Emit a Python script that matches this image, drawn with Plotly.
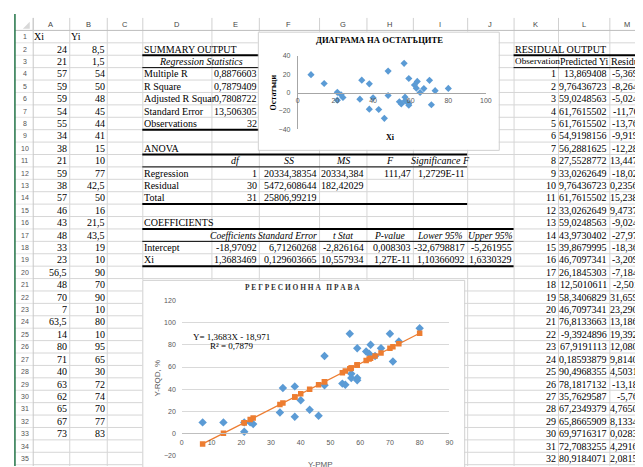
import plotly.graph_objects as go

# The page body has an 8px default margin, so the figure is drawn 8px in and
# sized to the visible part of the 643x467 window.
VIEW_W, VIEW_H = 643, 467
OX, OY = 8, 8
W, H = VIEW_W - OX, VIEW_H - OY

# ---------------- data ----------------
xi = [24, 21, 57, 59, 59, 54, 55, 34, 38, 21, 59, 38, 57, 46, 43, 48, 33, 23,
      56.5, 48, 70, 7, 63.5, 14, 80, 71, 40, 63, 62, 65, 67, 73]
yi = [8.5, 1.5, 54, 50, 48, 45, 44, 41, 15, 10, 77, 42.5, 50, 16, 21.5, 43.5, 19, 10,
      90, 70, 90, 10, 80, 10, 95, 65, 30, 72, 74, 70, 77, 83]
predicted = [13.869408, 9.76436723, 59.0248563, 61.7615502, 61.7615502, 54.9198156,
             56.2881625, 27.5528772, 33.0262649, 9.76436723, 61.7615502, 33.0262649,
             59.0248563, 43.9730402, 39.8679995, 46.7097341, 26.1845303, 12.5010611,
             58.3406829, 46.7097341, 76.8133663, -9.3924896, 67.9191113, 0.18593879,
             90.4968355, 78.1817132, 35.7629587, 67.2349379, 65.8665909, 69.9716317,
             72.7083255, 80.9184071]
residuals = [-5.369408, -8.26436723, -5.0248563, -11.7615502, -13.7615502, -9.9198156,
             -12.2881625, 13.4471228, -18.0262649, 0.23563277, 15.2384498, 9.4737351,
             -9.0248563, -27.9730402, -18.3679995, -3.2097341, -7.1845303, -2.5010611,
             31.6593171, 23.2902659, 13.1866337, 19.3924896, 12.0808887, 9.81406121,
             4.5031645, -13.1817132, -5.7629587, 4.7650621, 8.1334091, 0.0283683,
             4.2916745, 2.0815929]

stat_labels = ["Multiple R", "R Square", "Adjusted R Squar", "Standard Error", "Observations"]
stat_values = ["0,8876603", "0,7879409", "0,7808722", "13,506305", "32"]

anova_headers = ["df", "SS", "MS", "F", "Significance F"]
anova_rows = [
    ["Regression", "1", "20334,38354", "20334,384", "111,47", "1,2729E-11"],
    ["Residual", "30", "5472,608644", "182,42029", "", ""],
    ["Total", "31", "25806,99219", "", "", ""],
]
coef_headers = ["Coefficients", "Standard Error", "t Stat", "P-value", "Lower 95%", "Upper 95%"]
coef_rows = [
    ["Intercept", "-18,97092", "6,71260268", "-2,826164", "0,008303", "-32,6798817", "-5,261955"],
    ["Xi", "1,3683469", "0,129603665", "10,557934", "1,27E-11", "1,10366092", "1,6330329"],
]
col_letters = ["A", "B", "C", "D", "E", "F", "G", "H", "I", "J", "K", "L", "M"]

# ---------------- geometry helpers ----------------
SERIF = "Liberation Serif, Times New Roman, serif"
SANS = "Liberation Sans, Arial, sans-serif"


def px(x):
    return (x - OX) / W


def py(y):
    return 1 - (y - OY) / H


def row_c(n):
    return 33 + 12.6 * (n - 1)


def row_top(n):
    return 26.7 + 12.6 * (n - 1)


col_edges = [31, 68, 106, 142, 212, 260, 321, 369, 416, 471, 518, 563, 615, 651]
col_center = {c: (col_edges[i] + col_edges[i + 1]) / 2 for i, c in enumerate(col_letters)}
col_right = {c: col_edges[i + 1] - 2 for i, c in enumerate(col_letters)}
col_left = {c: col_edges[i] + 1.5 for i, c in enumerate(col_letters)}

chart1_box = (259, 28, 503, 148)
chart2_box = (142, 280, 468, 470)
boxes = [chart1_box, chart2_box]


def fmt_num(v):
    if float(v) == int(v):
        return str(int(v))
    return repr(v).replace(".", ",")


def fit_general(v, max_w, size=10):
    cw = {"-": 0.333, ",": 0.25}
    s = ""
    for d in range(9, -1, -1):
        s = f"{v:.{d}f}"
        if "." in s:
            s = s.rstrip("0").rstrip(".")
        s = s.replace(".", ",")
        w = sum(cw.get(c, 0.5) for c in s) * size
        if w <= max_w:
            return s
    return s


ann = []


def text(x, y, s, anchor="right", size=10, color="black", family=SERIF, angle=0):
    ann.append(dict(x=px(x), y=py(y), xref="paper", yref="paper", text=s, showarrow=False,
                    xanchor=anchor, yanchor="middle", borderpad=0, borderwidth=0,
                    textangle=angle, font=dict(family=family, size=size, color=color)))


def cut(intervals, lo, hi):
    out = []
    for a, b in intervals:
        if b <= lo or a >= hi:
            out.append((a, b))
        else:
            if a < lo:
                out.append((a, lo))
            if b > hi:
                out.append((hi, b))
    return out


def vsegs(x, y0, y1):
    segs = [(y0, y1)]
    for bx0, by0, bx1, by1 in boxes:
        if bx0 <= x <= bx1:
            segs = cut(segs, by0, by1)
    return segs


def hsegs(y, x0, x1):
    segs = [(x0, x1)]
    for bx0, by0, bx1, by1 in boxes:
        if by0 <= y <= by1:
            segs = cut(segs, bx0, bx1)
    return segs


shapes = []


def path_shape(d, color, width):
    shapes.append(dict(type="path", path=d, xref="paper", yref="paper",
                       line=dict(color=color, width=width), layer="below"))


# ---------------- sheet grid ----------------
grid = []
for x in col_edges[1:-1]:
    for a, b in vsegs(x, row_top(1), VIEW_H + 2):
        grid.append(f"M{px(x + 0.5)},{py(a)} L{px(x + 0.5)},{py(b)}")
for n in range(2, 37):
    y = row_top(n)
    for a, b in hsegs(y, 31, VIEW_W + 2):
        grid.append(f"M{px(a)},{py(y)} L{px(b)},{py(y)}")
path_shape(" ".join(grid), "#D6D6D6", 1)

rh = []
for n in range(2, 37):
    y = row_top(n)
    rh.append(f"M{px(13)},{py(y)} L{px(31)},{py(y)}")
path_shape(" ".join(rh), "#E4E4E4", 1)

ch = []
for x in col_edges[:-1]:
    ch.append(f"M{px(x + 0.5)},{py(14)} L{px(x + 0.5)},{py(row_top(1))}")
path_shape(" ".join(ch), "#D0D0D0", 1)
path_shape(f"M{px(13)},{py(row_top(1))} L{px(VIEW_W + 2)},{py(row_top(1))}", "#BDBDBD", 1)
path_shape(f"M{px(31.5)},{py(14)} L{px(31.5)},{py(VIEW_H + 2)}", "#C8C8C8", 1)
path_shape(f"M{px(13)},{py(10)} L{px(13)},{py(VIEW_H + 2)}", "#217346", 1.5)
shapes.append(dict(type="path", xref="paper", yref="paper",
                   path=f"M{px(21)},{py(25)} L{px(28)},{py(25)} L{px(28)},{py(18)} Z",
                   fillcolor="#D8D8D8", line=dict(width=0), layer="below"))

borders = [
    (142, 260, row_top(3), 2), (142, 260, row_top(4), 1), (142, 260, row_top(9), 2),
    (142, 471, row_top(11), 2), (142, 471, row_top(12), 1), (142, 471, row_top(15), 2),
    (142, 518, row_top(17), 2), (142, 518, row_top(18), 1), (142, 518, row_top(20), 2),
    (518, VIEW_W + 2, row_top(3), 2), (518, VIEW_W + 2, row_top(4), 1),
]
for x0, x1, y, w in borders:
    path_shape(f"M{px(x0)},{py(y)} L{px(x1)},{py(y)}", "black", w)

for bx0, by0, bx1, by1 in boxes:
    shapes.append(dict(type="rect", xref="paper", yref="paper",
                       x0=px(bx0 + 0.5), x1=px(bx1 + 0.5), y0=py(by0 + 0.5), y1=py(by1 + 0.5),
                       line=dict(color="#D0D0D0", width=1), fillcolor="rgba(0,0,0,0)",
                       layer="below"))

# ---------------- header texts ----------------
for c in col_letters:
    text(col_center[c], 20.6, c, anchor="center", size=7.5, color="#444444", family=SANS)
for n in range(1, 36):
    text(23, row_c(n), str(n), anchor="center", size=7, color="#555555", family=SANS)

# ---------------- cell texts ----------------
text(col_left["A"], row_c(1), "Xi", anchor="left")
text(col_left["B"], row_c(1), "Yi", anchor="left")
for i, (a, b) in enumerate(zip(xi, yi)):
    text(col_right["A"], row_c(i + 2), fmt_num(a))
    text(col_right["B"], row_c(i + 2), fmt_num(b))

text(col_left["D"], row_c(2), "SUMMARY OUTPUT", anchor="left")
text((142 + 260) / 2, row_c(3), "<i>Regression Statistics</i>", anchor="center")
for k, (lab, val) in enumerate(zip(stat_labels, stat_values)):
    text(col_left["D"], row_c(4 + k), lab, anchor="left")
    text(col_right["E"], row_c(4 + k), val)

text(col_left["D"], row_c(10), "ANOVA", anchor="left")
for c, h in zip(["E", "F", "G", "H", "I"], anova_headers):
    text(col_center[c], row_c(11), f"<i>{h}</i>", anchor="center")
for k, row in enumerate(anova_rows):
    text(col_left["D"], row_c(12 + k), row[0], anchor="left")
    for c, v in zip(["E", "F", "G", "H", "I"], row[1:]):
        if v:
            text(col_right[c], row_c(12 + k), v)

text(col_left["D"], row_c(16), "COEFFICIENTS", anchor="left")
coef_centers = {"E": 234, "F": 289, "G": 345, "H": 392.5, "I": 443.5, "J": 494.5}
for c, h in zip(["E", "F", "G", "H", "I", "J"], coef_headers):
    text(coef_centers[c], row_c(17), f"<i>{h}</i>", anchor="center", size=9.6)
for k, row in enumerate(coef_rows):
    text(col_left["D"], row_c(18 + k), row[0], anchor="left")
    for c, v in zip(["E", "F", "G", "H", "I", "J"], row[1:]):
        text(col_right[c], row_c(18 + k), v)

text(col_left["K"] - 0.5, row_c(2), "RESIDUAL OUTPUT", anchor="left")
text(col_left["K"] - 0.5, row_c(3), "Observation", anchor="left", size=9.2)
text(col_center["L"] + 0.5, row_c(3), "Predicted Yi", anchor="center", size=9.8)
text(col_left["M"], row_c(3), "Residuals", anchor="left")
for i, (p, r) in enumerate(zip(predicted, residuals)):
    n = 4 + i
    text(col_right["K"], row_c(n), str(i + 1))
    text(col_right["L"], row_c(n), fmt_num(p))
    text(col_right["M"], row_c(n), fit_general(r, 33))

# ---------------- chart titles / labels ----------------
text(382, 36.5, "<b>ДИАГРАМА НА ОСТАТЪЦИТЕ</b>", anchor="center", size=8.6)
text(275, 90, "<b>Остатъци</b>", anchor="center", size=8, angle=-90)
text(393, 135.5, "<b>Xi</b>", anchor="center", size=8)

text(304, 288, "<b>Р Е Г Р Е С И О Н Н А   П Р А В А</b>", anchor="center", size=7.4,
     color="#333333")
text(157, 380, "Y-RQD, %", anchor="center", size=8, color="#595959", family=SANS, angle=-90)
text(322, 468, "Y-PMP", anchor="center", size=8, color="#595959", family=SANS)
text(232, 338, "Y= 1,3683X - 18,971", anchor="center", size=9)
text(233, 347.5, "R² = 0,7879", anchor="center", size=9)

# ---------------- charts ----------------
fig = go.Figure()

fig.add_trace(go.Scatter(x=xi, y=residuals, mode="markers", xaxis="x", yaxis="y",
                         marker=dict(symbol="diamond", size=5.5, color="#5B9BD5"),
                         showlegend=False, hoverinfo="skip"))

fig.add_trace(go.Scatter(x=xi, y=yi, mode="markers", xaxis="x2", yaxis="y2",
                         marker=dict(symbol="diamond", size=6.5, color="#5B9BD5"),
                         showlegend=False, hoverinfo="skip"))
pairs = sorted(zip(xi, predicted))
fig.add_trace(go.Scatter(x=[p[0] for p in pairs], y=[p[1] for p in pairs],
                         mode="lines+markers", xaxis="x2", yaxis="y2",
                         line=dict(color="#ED7D31", width=1.3),
                         marker=dict(symbol="square", size=5.5, color="#ED7D31"),
                         showlegend=False, hoverinfo="skip"))

tickfont = dict(family=SANS, size=7, color="#595959")

fig.update_layout(
    width=W, height=H, autosize=False,
    margin=dict(l=0, r=0, t=0, b=0),
    paper_bgcolor="white", plot_bgcolor="white",
    shapes=shapes, annotations=ann,
    xaxis=dict(domain=[px(299.5), px(490)], range=[0, 100], dtick=20,
               anchor="free", position=py(89.8), showline=True, linecolor="#A6A6A6",
               linewidth=1, showgrid=False, zeroline=False, ticks="",
               tickfont=tickfont, ticklabelstandoff=1, fixedrange=True),
    yaxis=dict(domain=[py(127.3), py(52.3)], range=[-40, 40], dtick=20,
               anchor="x", showline=True, linecolor="#A6A6A6", linewidth=1,
               showgrid=False, zeroline=False, ticks="", tickfont=tickfont,
               ticklabelstandoff=5, fixedrange=True),
    xaxis2=dict(domain=[px(182), px(453)], range=[0, 90], dtick=10,
                anchor="free", position=py(436), showline=True, linecolor="#BFBFBF",
                linewidth=1, showgrid=False, zeroline=False, ticks="",
                tickfont=tickfont, ticklabelstandoff=2, fixedrange=True),
    yaxis2=dict(domain=[py(458.5), py(301)], range=[-20, 120], dtick=20,
                anchor="x2", showline=False, showgrid=True, gridcolor="#D9D9D9",
                gridwidth=1, zeroline=False, ticks="", tickfont=tickfont,
                ticklabelstandoff=5, fixedrange=True),
)

fig.write_html("out.html")
